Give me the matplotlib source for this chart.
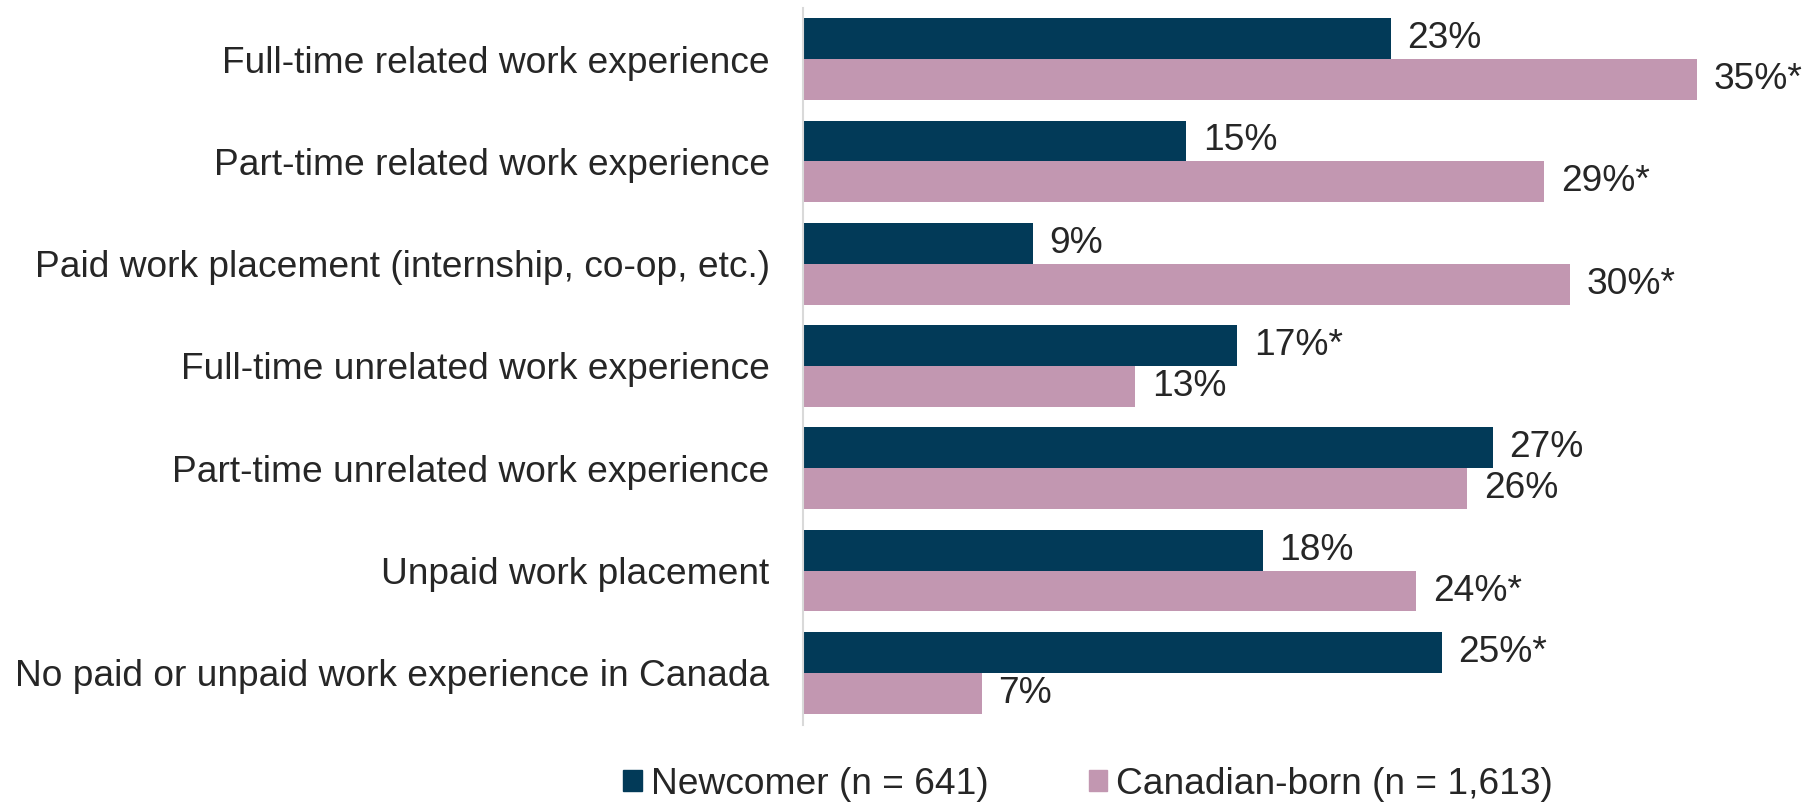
import numpy as np
import matplotlib.pyplot as plt
from matplotlib.patches import Patch

plt.rcParams['font.family'] = ['Liberation Sans', 'DejaVu Sans']

categories = [
    "Full-time related work experience",
    "Part-time related work experience",
    "Paid work placement (internship, co-op, etc.)",
    "Full-time unrelated work experience",
    "Part-time unrelated work experience",
    "Unpaid work placement",
    "No paid or unpaid work experience in Canada",
]
newcomer = [23, 15, 9, 17, 27, 18, 25]
canadian = [35, 29, 30, 13, 26, 24, 7]
newcomer_sig = [False, False, False, True, False, False, True]
canadian_sig = [True, True, True, False, False, True, False]
series_names = ["Newcomer (n = 641)", "Canadian-born (n = 1,613)"]

navy = '#023a58'
pink = '#c297b1'
text_col = '#262626'
fs = 26.7

fig = plt.figure(figsize=(18.08, 8.05), dpi=100)
ax = fig.add_axes([803/1808, 1-725/805, 971/1808, 717/805])

y = np.arange(len(categories))
h = 0.4
ax.barh(y - h/2, newcomer, height=h, color=navy)
ax.barh(y + h/2, canadian, height=h, color=pink)

# value labels, starred where the difference is significant
for i in range(len(categories)):
    for val, sig, off in [(newcomer[i], newcomer_sig[i], -h/2),
                          (canadian[i], canadian_sig[i], h/2)]:
        ax.annotate(f"{val}%" + ("*" if sig else ""), (val, i + off),
                    xytext=(12, 0), textcoords='offset points',
                    va='center', ha='left', fontsize=fs, color=text_col)

ax.set_xlim(0, 38)
ax.set_ylim(6.51, -0.50)
ax.set_yticks(y)
ax.set_yticklabels(categories, fontsize=fs, color=text_col)
ax.set_xticks([])
ax.tick_params(axis='y', length=0, pad=24)
for s in ['top', 'right', 'bottom']:
    ax.spines[s].set_visible(False)
ax.spines['left'].set_color('#d9d9d9')
ax.spines['left'].set_linewidth(1.5)

handles = [Patch(color=navy, label=series_names[0]),
           Patch(color=pink, label=series_names[1])]
fig.legend(handles=handles, loc='center left', bbox_to_anchor=(623/1808, 1-784/805),
           ncol=2, frameon=False, fontsize=fs, handlelength=0.5, handleheight=0.5,
           handletextpad=0.25, columnspacing=2.7, borderpad=0, borderaxespad=0,
           labelcolor=text_col)

fig.savefig('out.png', dpi=100)
